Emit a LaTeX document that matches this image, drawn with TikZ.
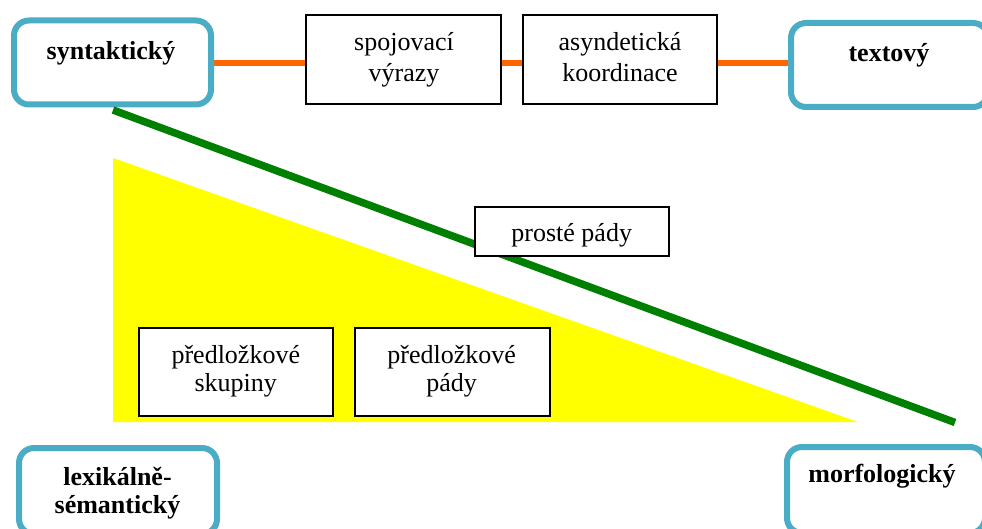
\documentclass[tikz,border=0pt]{standalone}
\usepackage{fontspec}
\setmainfont{Liberation Serif}
\usetikzlibrary{backgrounds}
\definecolor{boxblue}{HTML}{4BACC6}
\definecolor{linkorange}{HTML}{FF6600}
\definecolor{diaggreen}{HTML}{008000}
\definecolor{areayellow}{HTML}{FFFF00}
\begin{document}
\begin{tikzpicture}[x=1pt,y=-1pt,
  bluebox/.style={draw=boxblue, line width=6pt, rounded corners=15pt, fill=white, minimum width=197pt, minimum height=84pt, inner sep=0pt},
  blackbox/.style={draw=black, line width=1.6pt, fill=white, inner sep=0pt},
  boldtxt/.style={font=\fontsize{26}{28}\selectfont\bfseries, inner sep=0pt, align=center},
  normtxt/.style={font=\fontsize{26}{31}\selectfont, inner sep=0pt, align=center},
  normtxtb/.style={font=\fontsize{26}{28}\selectfont, inner sep=0pt, align=center},
  orangeline/.style={draw=linkorange, line width=6pt},
  greenline/.style={draw=diaggreen, line width=7.5pt}]
\clip (0,0) rectangle (982,529);
% yellow area
\fill[areayellow] (113,158) -- (113,422) -- (858,422) -- cycle;
% top row
\node[bluebox] (syn) at (112.5,62.5) {};
\node[blackbox, minimum width=195pt, minimum height=89pt] (spoj) at (403.5,59.5) {};
\node[blackbox, minimum width=194pt, minimum height=89pt] (asyn) at (620,59.5) {};
\node[bluebox] (tex) at (889.5,65) {};
\begin{pgfonlayer}{background}
\draw[orangeline] (syn.east |- 0,63) -- (spoj.west |- 0,63);
\draw[orangeline] (spoj.east |- 0,63) -- (asyn.west |- 0,63);
\draw[orangeline] (asyn.east |- 0,63) -- (tex.west |- 0,63);
\end{pgfonlayer}
\node[boldtxt, anchor=base] (syntxt) at (111,60) {syntaktický};
\node[normtxt] (spojtxt) at (404,59.4) {spojovací\\výrazy};
\node[normtxt] (asyntxt) at (620,56.8) {asyndetická\\koordinace};
\node[boldtxt, anchor=base] (textxt) at (889,62) {textový};
% diagonal
\coordinate (gstart) at (113,110);
\coordinate (gend) at (955,422.5);
\draw[greenline] (gstart) -- (gend);
% middle
\node[blackbox, minimum width=194pt, minimum height=49pt] (prost) at (572,231.5) {};
\node[normtxt, anchor=base] (prosttxt) at (571.7,242) {prosté pády};
\node[blackbox, minimum width=194pt, minimum height=88pt] (pskup) at (236,372) {};
\node[normtxtb] (pskuptxt) at (235.8,371) {předložkové\\skupiny};
\node[blackbox, minimum width=195pt, minimum height=88pt] (ppady) at (452.5,372) {};
\node[normtxtb] (ppadytxt) at (451.7,371) {předložkové\\pády};
% bottom row
\node[bluebox, minimum width=198pt, minimum height=86pt] (lex) at (118,491) {};
\node[boldtxt] (lextxt) at (117.5,492.8) {lexikálně-\\sémantický};
\node[bluebox, minimum width=198pt, minimum height=86pt] (morf) at (886,490) {};
\node[boldtxt, anchor=base] (morftxt) at (882,482) {morfologický};
\end{tikzpicture}
\end{document}
